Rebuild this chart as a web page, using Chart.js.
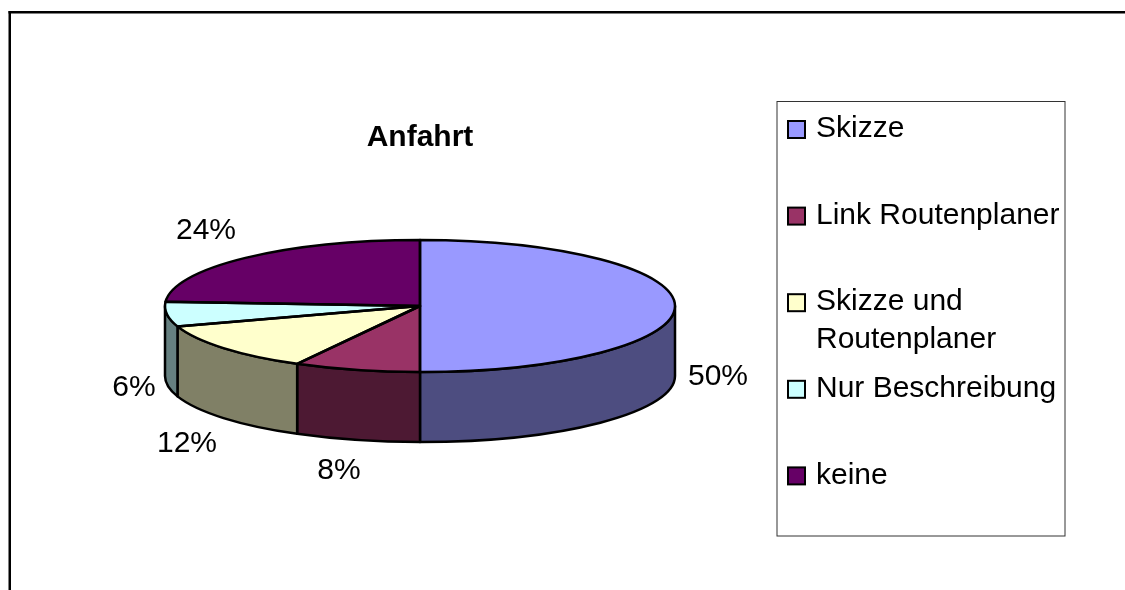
<!DOCTYPE html>
<html lang="de">
<head>
<meta charset="utf-8">
<title>Anfahrt</title>
<script src="https://cdn.jsdelivr.net/npm/chart.js@4"></script>
<style>
    html, body { margin: 0; padding: 0; background: #ffffff; }
    canvas { display: block; }
</style>
</head>
<body>
<canvas id="piechart" width="1125" height="590"></canvas>
<script>
"use strict";

// chart data
var chartTitle = "Anfahrt";
var categories = ["Skizze", "Link Routenplaner", "Skizze und Routenplaner", "Nur Beschreibung", "keine"];
var legendLines = [["Skizze"], ["Link Routenplaner"], ["Skizze und", "Routenplaner"], ["Nur Beschreibung"], ["keine"]];
var shares = [50, 8, 12, 6, 24];

// colours: top of the slice, then its darker side wall
var topColors = ["#9999ff", "#993366", "#ffffcc", "#ccffff", "#660066"];
var wallColors = ["#4d4d80", "#4d1933", "#808066", "#668080", "#330033"];

var settings = {
    font: "'Liberation Sans', Arial, sans-serif",
    fontSize: 30,
    centerY: 306,        // where the pie's centre goes after flattening
    radius: 255,
    flatten: 66 / 255,   // vertical squash of the pie
    depth: 70,           // height of the side wall
    outline: 2.5,
    percentAnchors: [[718, 377], [339, 471], [187, 444], [134, 388], [206, 231]],
    legendBox: { x: 777, y: 101.5, w: 288, h: 434.5 },
    legendSwatchX: 788,
    legendTextX: 816,
    legendFirstY: 129,
    legendStep: 86.6,
    legendLineHeight: 38
};

// pie geometry after flattening, taken from the library's arc elements
function pieArcs(chart) {
    return chart.getDatasetMeta(0).data.map(function (arc) {
        return arc.getProps(["x", "y", "startAngle", "endAngle", "outerRadius"], true);
    });
}

function ellipsePath(ctx, arc, a, b, offsetY, ccw) {
    ctx.ellipse(arc.x, settings.centerY + offsetY, arc.outerRadius, arc.outerRadius * settings.flatten, 0, a, b, ccw);
}

var pie3d = {
    id: "pie3d",
    beforeDraw: function (chart) {
        // frame, only top and left are inside the picture
        var ctx = chart.ctx;
        ctx.save();
        ctx.fillStyle = "#000000";
        ctx.fillRect(8.5, 11, 1117, 2.5);
        ctx.fillRect(8.5, 11, 2.5, 579);
        ctx.restore();
    },
    beforeDatasetsDraw: function (chart) {
        var ctx = chart.ctx,
            arcs = pieArcs(chart);

        // side walls, only the part facing the viewer
        ctx.save();
        ctx.lineWidth = settings.outline;
        ctx.strokeStyle = "#000000";
        ctx.lineJoin = "round";
        arcs.forEach(function (arc, i) {
            var a = Math.max(arc.startAngle, 0),
                b = Math.min(arc.endAngle, Math.PI);
            if (a >= b) {
                return;
            }
            ctx.beginPath();
            ellipsePath(ctx, arc, a, b, 0, false);
            ellipsePath(ctx, arc, b, a, settings.depth, true);
            ctx.closePath();
            ctx.fillStyle = wallColors[i];
            ctx.fill();
            ctx.stroke();
        });
        ctx.restore();

        // the library draws the slices, squashed
        var first = arcs[0];
        ctx.save();
        ctx.translate(first.x, settings.centerY);
        ctx.scale(1, settings.flatten);
        ctx.translate(-first.x, -first.y);
    },
    afterDatasetsDraw: function (chart) {
        var ctx = chart.ctx,
            arcs = pieArcs(chart);
        ctx.restore();

        // outlines of the slices, kept out of the squash so the line stays even
        ctx.save();
        ctx.lineWidth = settings.outline;
        ctx.strokeStyle = "#000000";
        ctx.lineJoin = "round";
        arcs.forEach(function (arc) {
            ctx.beginPath();
            ctx.moveTo(arc.x, settings.centerY);
            ellipsePath(ctx, arc, arc.startAngle, arc.endAngle, 0, false);
            ctx.closePath();
            ctx.stroke();
        });
        ctx.restore();
    },
    afterDraw: function (chart) {
        var ctx = chart.ctx,
            box = settings.legendBox,
            font = settings.fontSize + "px " + settings.font;

        ctx.save();
        ctx.fillStyle = "#000000";
        ctx.font = font;
        ctx.textBaseline = "middle";

        // percentage labels
        ctx.textAlign = "center";
        shares.forEach(function (share, i) {
            var anchor = settings.percentAnchors[i];
            ctx.fillText(share + "%", anchor[0], anchor[1]);
        });

        // legend
        ctx.strokeStyle = "#333333";
        ctx.lineWidth = 1;
        ctx.strokeRect(box.x, box.y, box.w, box.h);
        ctx.textAlign = "left";
        categories.forEach(function (category, i) {
            var y = settings.legendFirstY + i * settings.legendStep;
            ctx.fillStyle = topColors[i];
            ctx.fillRect(settings.legendSwatchX, y - 8, 17, 17);
            ctx.strokeStyle = "#000000";
            ctx.lineWidth = 2;
            ctx.strokeRect(settings.legendSwatchX, y - 8, 17, 17);
            ctx.fillStyle = "#000000";
            legendLines[i].forEach(function (line, j) {
                ctx.fillText(line, settings.legendTextX, y + j * settings.legendLineHeight);
            });
        });
        ctx.restore();
    }
};

var piechart = new Chart(document.getElementById("piechart").getContext("2d"), {
    type: "pie",
    data: {
        labels: categories,
        datasets: [{
            data: shares,
            backgroundColor: topColors,
            borderWidth: 0,
            clip: false
        }]
    },
    options: {
        responsive: false,
        animation: false,
        radius: settings.radius,
        layout: { padding: { right: 285, bottom: 130 } },
        events: [],
        plugins: {
            legend: { display: false },
            tooltip: { enabled: false },
            title: {
                display: true,
                text: chartTitle,
                color: "#000000",
                font: { family: settings.font, size: settings.fontSize, weight: "bold" },
                padding: { top: 120, bottom: 0 }
            }
        }
    },
    plugins: [pie3d]
});
</script>
</body>
</html>
